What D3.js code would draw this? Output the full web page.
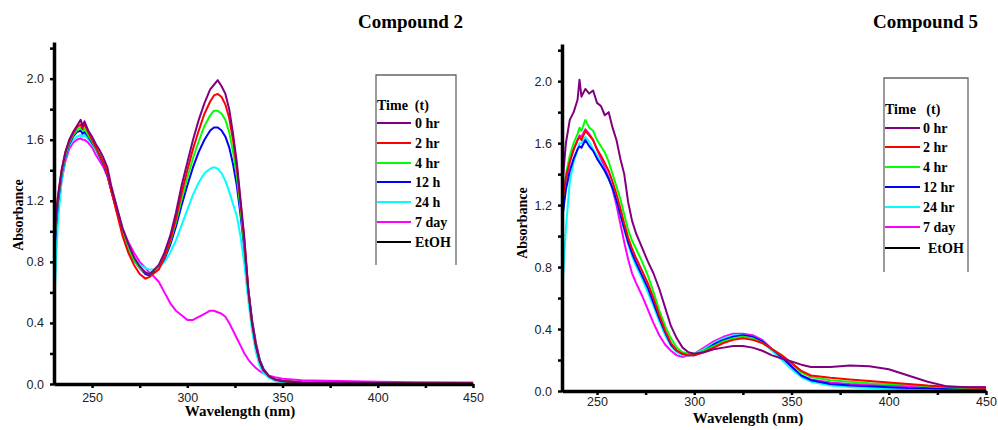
<!DOCTYPE html>
<html>
<head>
<meta charset="utf-8">
<script src="https://cdn.jsdelivr.net/npm/d3@7"></script>
<style>
  body { margin: 0; background: #fff; }
  svg { display: block; }
  .tick text { font-family: "Liberation Sans", Arial, sans-serif; font-size: 12.5px; fill: #222; }
  .serif { font-family: "Liberation Serif", "Times New Roman", serif; font-weight: bold; fill: #000; white-space: pre; }
</style>
</head>
<body>
<svg id="chart" width="998" height="430"></svg>
<script>
// legend
var seriesNames2 = ['0 hr', '2 hr', '4 hr', '12 h', '24 h', '7 day', 'EtOH'];
var seriesNames5 = ['0 hr', '2 hr', '4 hr', '12 hr', '24 hr', '7 day', 'EtOH'];
var colors = ['#800080', '#ff0000', '#00ff00', '#0000ff', '#00ffff', '#ff00ff', '#000000'];

// ticks
var xTicks = [250, 300, 350, 400, 450];
var xMinor = [275, 325, 375, 425];
var yTicks = [0.0, 0.4, 0.8, 1.2, 1.6, 2.0];
var yMinor = [0.2, 0.6, 1.0, 1.4, 1.8, 2.2];

// Compound 2 (left panel)
var wl2 = [230, 232, 234, 236, 238, 240, 242, 244, 245, 246, 248, 250, 252, 254, 256, 258, 260, 263, 266, 269, 272, 275, 278, 280, 282,
           285, 288, 291, 294, 297, 300, 303, 306, 309, 312, 314, 316, 318, 320, 322, 324, 326, 328, 330, 332, 334, 336, 338, 340, 343, 346, 350,
           360, 380, 400, 420, 450];
var c2_0hr  = [0.95, 1.22, 1.40, 1.52, 1.60, 1.65, 1.69, 1.73, 1.69, 1.72, 1.66, 1.62, 1.57, 1.53, 1.48, 1.42, 1.30, 1.16, 1.02, 0.92, 0.83, 0.77, 0.73, 0.72, 0.74,
               0.78, 0.86, 0.97, 1.12, 1.30, 1.45, 1.60, 1.73, 1.84, 1.93, 1.96, 1.99, 1.95, 1.90, 1.80, 1.64, 1.45, 1.20, 0.95, 0.62, 0.40, 0.25, 0.15, 0.09, 0.05, 0.03, 0.02,
               0.01, 0.008, 0.006, 0.005, 0.005];
var c2_2hr  = [0.95, 1.22, 1.40, 1.52, 1.59, 1.64, 1.68, 1.70, 1.67, 1.70, 1.65, 1.60, 1.55, 1.50, 1.45, 1.38, 1.27, 1.12, 0.97, 0.86, 0.78, 0.72, 0.69, 0.70, 0.72,
               0.75, 0.83, 0.94, 1.08, 1.25, 1.40, 1.54, 1.66, 1.77, 1.85, 1.89, 1.90, 1.88, 1.83, 1.74, 1.60, 1.42, 1.18, 0.93, 0.62, 0.40, 0.25, 0.15, 0.09, 0.05, 0.03, 0.02,
               0.01, 0.008, 0.006, 0.005, 0.005];
var c2_4hr  = [0.90, 1.20, 1.38, 1.50, 1.58, 1.63, 1.66, 1.68, 1.66, 1.67, 1.63, 1.59, 1.54, 1.50, 1.45, 1.38, 1.28, 1.14, 1.00, 0.89, 0.81, 0.76, 0.73, 0.72, 0.74,
               0.76, 0.83, 0.93, 1.06, 1.21, 1.35, 1.48, 1.59, 1.69, 1.76, 1.79, 1.79, 1.77, 1.73, 1.65, 1.52, 1.36, 1.14, 0.90, 0.61, 0.40, 0.25, 0.15, 0.09, 0.05, 0.03, 0.02,
               0.01, 0.008, 0.006, 0.005, 0.005];
var c2_12h  = [0.85, 1.18, 1.37, 1.49, 1.57, 1.62, 1.65, 1.66, 1.64, 1.65, 1.62, 1.58, 1.54, 1.49, 1.44, 1.37, 1.27, 1.13, 1.00, 0.89, 0.81, 0.76, 0.72, 0.71, 0.73,
               0.76, 0.82, 0.91, 1.03, 1.17, 1.30, 1.42, 1.52, 1.60, 1.66, 1.68, 1.68, 1.66, 1.62, 1.55, 1.44, 1.30, 1.10, 0.88, 0.62, 0.42, 0.27, 0.16, 0.10, 0.05, 0.03, 0.02,
               0.01, 0.008, 0.006, 0.005, 0.005];
var c2_24h  = [0.50, 1.05, 1.33, 1.48, 1.56, 1.60, 1.62, 1.63, 1.62, 1.63, 1.60, 1.57, 1.53, 1.49, 1.45, 1.38, 1.29, 1.15, 1.02, 0.91, 0.83, 0.78, 0.76, 0.75, 0.75,
               0.76, 0.80, 0.86, 0.94, 1.04, 1.14, 1.24, 1.32, 1.38, 1.41, 1.42, 1.41, 1.38, 1.33, 1.26, 1.18, 1.10, 0.96, 0.78, 0.55, 0.35, 0.21, 0.12, 0.07, 0.04, 0.02, 0.01,
               0.008, 0.006, 0.005, 0.005, 0.005];
var c2_7day = [0.75, 1.12, 1.33, 1.46, 1.54, 1.58, 1.60, 1.61, 1.60, 1.60, 1.58, 1.55, 1.50, 1.46, 1.42, 1.36, 1.27, 1.14, 1.02, 0.93, 0.86, 0.80, 0.76, 0.73, 0.71,
               0.67, 0.60, 0.53, 0.48, 0.45, 0.42, 0.42, 0.44, 0.46, 0.48, 0.48, 0.47, 0.46, 0.44, 0.40, 0.35, 0.30, 0.25, 0.20, 0.16, 0.13, 0.105, 0.085, 0.07, 0.055, 0.045, 0.035,
               0.025, 0.02, 0.015, 0.012, 0.01];
var etohWl2 = [230, 450];
var c2_etoh = [0.0, 0.0];

// Compound 5 (right panel)
var wl5 = [232, 234, 236, 238, 240, 241, 242, 244, 246, 248, 250, 252, 254, 256, 258, 260, 262, 264, 266, 268, 270, 273, 276, 279, 282,
           285, 288, 291, 294, 297, 300, 305, 310, 315, 320, 325, 330, 335, 340, 345, 350, 355, 360, 370, 380, 390, 400, 410, 420, 430, 440, 450];
var c5_0hr  = [1.30, 1.60, 1.75, 1.80, 1.88, 2.01, 1.90, 1.95, 1.92, 1.94, 1.86, 1.84, 1.78, 1.80, 1.70, 1.62, 1.50, 1.40, 1.22, 1.10, 1.02, 0.93, 0.84, 0.76, 0.66,
               0.54, 0.42, 0.34, 0.28, 0.25, 0.24, 0.25, 0.27, 0.28, 0.29, 0.29, 0.28, 0.26, 0.23, 0.21, 0.19, 0.17, 0.155, 0.155, 0.165, 0.16, 0.14, 0.10, 0.06, 0.03, 0.025, 0.025];
var c5_2hr  = [1.20, 1.38, 1.48, 1.56, 1.62, 1.64, 1.62, 1.68, 1.65, 1.62, 1.56, 1.52, 1.47, 1.42, 1.35, 1.27, 1.18, 1.08, 0.99, 0.92, 0.86, 0.78, 0.70, 0.60, 0.49,
               0.39, 0.31, 0.26, 0.24, 0.23, 0.23, 0.25, 0.28, 0.31, 0.33, 0.34, 0.33, 0.31, 0.27, 0.23, 0.18, 0.13, 0.10, 0.085, 0.075, 0.065, 0.055, 0.045, 0.035, 0.028, 0.022, 0.02];
var c5_4hr  = [1.20, 1.40, 1.52, 1.60, 1.66, 1.70, 1.68, 1.75, 1.70, 1.68, 1.62, 1.58, 1.54, 1.48, 1.40, 1.32, 1.24, 1.14, 1.04, 0.97, 0.92, 0.84, 0.75, 0.64, 0.52,
               0.42, 0.34, 0.28, 0.25, 0.24, 0.24, 0.26, 0.29, 0.32, 0.34, 0.35, 0.34, 0.31, 0.27, 0.23, 0.18, 0.12, 0.09, 0.07, 0.06, 0.05, 0.045, 0.04, 0.03, 0.025, 0.02, 0.02];
var c5_12hr = [1.10, 1.30, 1.42, 1.50, 1.56, 1.58, 1.57, 1.62, 1.58, 1.55, 1.50, 1.46, 1.42, 1.37, 1.31, 1.23, 1.14, 1.05, 0.96, 0.89, 0.83, 0.75, 0.67, 0.57, 0.47,
               0.38, 0.30, 0.26, 0.24, 0.23, 0.23, 0.26, 0.30, 0.33, 0.35, 0.36, 0.35, 0.32, 0.27, 0.22, 0.16, 0.10, 0.07, 0.045, 0.035, 0.03, 0.025, 0.02, 0.018, 0.015, 0.015, 0.015];
var c5_24hr = [0.60, 1.05, 1.35, 1.48, 1.56, 1.60, 1.60, 1.64, 1.61, 1.56, 1.52, 1.47, 1.42, 1.37, 1.31, 1.23, 1.14, 1.04, 0.95, 0.87, 0.81, 0.73, 0.64, 0.55, 0.45,
               0.36, 0.29, 0.25, 0.23, 0.23, 0.24, 0.27, 0.31, 0.34, 0.36, 0.36, 0.35, 0.32, 0.26, 0.20, 0.14, 0.09, 0.06, 0.035, 0.025, 0.02, 0.015, 0.012, 0.01, 0.01, 0.01, 0.01];
var c5_7day = [1.10, 1.35, 1.48, 1.56, 1.62, 1.65, 1.64, 1.69, 1.66, 1.62, 1.56, 1.50, 1.44, 1.38, 1.30, 1.20, 1.08, 0.96, 0.85, 0.76, 0.70, 0.62, 0.53, 0.44, 0.36,
               0.30, 0.26, 0.23, 0.22, 0.23, 0.24, 0.28, 0.32, 0.35, 0.37, 0.37, 0.36, 0.33, 0.27, 0.21, 0.15, 0.10, 0.075, 0.055, 0.045, 0.04, 0.035, 0.03, 0.027, 0.025, 0.025, 0.025];
var etohWl5 = [232, 450];
var c5_etoh = [0.0, 0.0];

const svg = d3.select('#chart');

function drawPanel(cfg) {
    var x = d3.scaleLinear().domain(cfg.xDomain).range(cfg.xRange);
    var y = d3.scaleLinear().domain([0, 2.24]).range(cfg.yRange);
    var g = svg.append('g');

    var line = d3.line()
        .x(d => x(d[0]))
        .y(d => y(d[1]));

    // curves, black EtOH first
    cfg.series.slice().reverse().forEach(function(s) {
        var pts = s.wl.map((w, i) => [w, s.abs[i]]);
        g.append('path')
            .datum(pts)
            .attr('fill', 'none')
            .attr('stroke', s.color)
            .attr('stroke-width', 2)
            .attr('stroke-linejoin', 'round')
            .attr('d', line);
    });

    var x0 = cfg.xRange[0], yb = cfg.yRange[0];

    // minor ticks
    g.append('g').attr('transform', 'translate(' + x0 + ',0)')
        .call(d3.axisLeft(y).tickValues(yMinor).tickSize(4).tickSizeOuter(0).tickFormat(''))
        .call(a => a.select('.domain').remove())
        .selectAll('line').attr('stroke-width', 2.5);
    g.append('g').attr('transform', 'translate(0,' + yb + ')')
        .call(d3.axisBottom(x).tickValues(xMinor).tickSize(4).tickSizeOuter(0).tickFormat(''))
        .call(a => a.select('.domain').remove())
        .selectAll('line').attr('stroke-width', 2.5);

    // major ticks and axis lines
    var ya = g.append('g').attr('transform', 'translate(' + x0 + ',0)')
        .call(d3.axisLeft(y).tickValues(yTicks).tickSize(4).tickSizeOuter(0).tickPadding(6).tickFormat(d3.format('.1f')));
    ya.select('.domain').attr('stroke-width', 3.5);
    ya.selectAll('line').attr('stroke-width', 2.5);

    var xa = g.append('g').attr('transform', 'translate(0,' + yb + ')')
        .call(d3.axisBottom(x).tickValues(xTicks).tickSize(4).tickSizeOuter(0).tickPadding(cfg.xPad));
    xa.select('.domain').attr('stroke-width', 3.5);
    xa.selectAll('line').attr('stroke-width', 2.5);

    // titles
    svg.append('text').attr('class', 'serif')
        .attr('x', cfg.titleX).attr('y', 28)
        .attr('font-size', 19)
        .text(cfg.title);
    svg.append('text').attr('class', 'serif')
        .attr('text-anchor', 'middle')
        .attr('transform', 'translate(' + cfg.yLabel[0] + ',' + cfg.yLabel[1] + ') rotate(-90)')
        .attr('font-size', 14)
        .text('Absorbance');
    svg.append('text').attr('class', 'serif')
        .attr('text-anchor', 'middle')
        .attr('x', cfg.xLabel[0]).attr('y', cfg.xLabel[1])
        .attr('font-size', 15)
        .text('Wavelength (nm)');

    // legend box (top, left, right sides)
    var L = cfg.legend;
    svg.append('path')
        .attr('fill', 'none').attr('stroke', '#666').attr('stroke-width', 1.3)
        .attr('d', 'M' + L.left + ',' + L.bottom + 'V' + L.top + 'H' + L.right + 'V' + L.bottom);
    svg.append('text').attr('class', 'serif')
        .attr('x', L.left + 1).attr('y', L.titleY)
        .attr('font-size', 14)
        .text(L.titleText);
    cfg.series.forEach(function(s, i) {
        var ry = L.rows[i];
        svg.append('line')
            .attr('x1', L.left + 1).attr('x2', L.lineEnd)
            .attr('y1', ry).attr('y2', ry)
            .attr('stroke', s.color).attr('stroke-width', 2);
        svg.append('text').attr('class', 'serif')
            .attr('x', (i === 6 ? L.etohX : L.textX)).attr('y', ry + 5)
            .attr('font-size', 14)
            .text(s.name);
    });
}

var left = [c2_0hr, c2_2hr, c2_4hr, c2_12h, c2_24h, c2_7day, c2_etoh];
var right = [c5_0hr, c5_2hr, c5_4hr, c5_12hr, c5_24hr, c5_7day, c5_etoh];

drawPanel({
    title: 'Compound 2', titleX: 358,
    xDomain: [230, 450], xRange: [54, 473], yRange: [384, 42], xPad: 5,
    yLabel: [23, 215], xLabel: [240, 416],
    series: left.map((a, i) => ({name: seriesNames2[i], color: colors[i], abs: a, wl: i === 6 ? etohWl2 : wl2})),
    legend: {left: 376, right: 456, top: 75, bottom: 265, titleY: 110, titleText: 'Time  (t)',
             rows: [123, 143, 163, 182, 202, 222, 242], lineEnd: 411, textX: 415, etohX: 415}
});

drawPanel({
    title: 'Compound 5', titleX: 873,
    xDomain: [232, 450], xRange: [562, 986], yRange: [391, 44], xPad: 2,
    yLabel: [527, 223], xLabel: [748, 423],
    series: right.map((a, i) => ({name: seriesNames5[i], color: colors[i], abs: a, wl: i === 6 ? etohWl5 : wl5})),
    legend: {left: 884, right: 968, top: 78, bottom: 272, titleY: 114, titleText: 'Time   (t)',
             rows: [128, 147, 167, 187, 207, 227, 248], lineEnd: 920, textX: 923, etohX: 928}
});
</script>
</body>
</html>
